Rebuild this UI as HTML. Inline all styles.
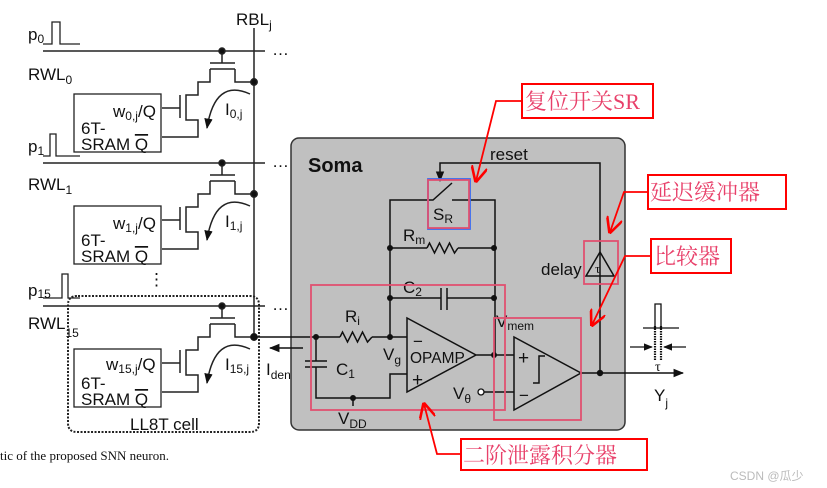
<!DOCTYPE html>
<html><head><meta charset="utf-8"><style>
body{margin:0;background:#fff;width:827px;height:488px;overflow:hidden}
svg{display:block}
text{font-family:"Liberation Sans",sans-serif;fill:#111}
.cn{font-family:"Liberation Serif","Noto Serif CJK SC",serif;fill:#e8406a;font-size:22px}
</style></head><body>
<svg width="827" height="488" viewBox="0 0 827 488" xmlns="http://www.w3.org/2000/svg">
<defs>
<marker id="ah" viewBox="0 0 10 10" refX="9" refY="5" markerWidth="7" markerHeight="7" orient="auto"><path d="M0 1 L10 5 L0 9 Z" fill="#111"/></marker>
<marker id="rh" viewBox="0 0 10 10" refX="9" refY="5" markerWidth="9" markerHeight="9" orient="auto"><path d="M0 0 L10 5 L0 10" fill="none" stroke="#f00" stroke-width="1.6"/></marker>
<g id="row" fill="none" stroke="#222" stroke-width="1.5">
<path d="M43 51 H265"/>
<path d="M222 51 V63 M210 63 H235 M210 69 H235 M235 69 V82 H254"/>
<path d="M210 69 V82 H198 V95 H186 V120 H198 V137 H162"/>
<path d="M180 95 V118 M162 108 H180"/>
<rect x="74" y="94" width="87" height="58" stroke-width="1.3"/>
<path d="M250 94 Q215 78 207 128" marker-end="url(#ah)"/>
<circle cx="222" cy="51" r="3" fill="#111"/>
<circle cx="254" cy="82" r="3.2" fill="#111"/>
</g>
</defs>
<path d="M254 28 V337" stroke="#222" stroke-width="1.5"/>
<text x="236" y="25" font-size="17">RBL<tspan font-size="12" dy="4">j</tspan></text>
<use href="#row"/>
<use href="#row" transform="translate(0,112)"/>
<use href="#row" transform="translate(0,255)"/>
<g font-size="17">
<text x="272" y="55">…</text><text x="272" y="167">…</text><text x="272" y="310">…</text>
<text x="28" y="40">p<tspan font-size="12" dy="3">0</tspan></text>
<text x="28" y="80">RWL<tspan font-size="12" dy="4">0</tspan></text>
<text x="28" y="152">p<tspan font-size="12" dy="3">1</tspan></text>
<text x="28" y="190">RWL<tspan font-size="12" dy="4">1</tspan></text>
<text x="28" y="296">p<tspan font-size="12" dy="2">15</tspan></text>
<text x="28" y="329">RWL<tspan font-size="12" dy="8">15</tspan></text>
<text x="113" y="117">w<tspan font-size="12" dy="3">0,j</tspan><tspan dy="-3">/Q</tspan></text>
<text x="113" y="229">w<tspan font-size="12" dy="3">1,j</tspan><tspan dy="-3">/Q</tspan></text>
<text x="106" y="370">w<tspan font-size="12" dy="3">15,j</tspan><tspan dy="-3">/Q</tspan></text>
<text x="81" y="134">6T-</text><text x="81" y="150">SRAM <tspan text-decoration="overline">Q</tspan></text>
<text x="81" y="246">6T-</text><text x="81" y="262">SRAM <tspan text-decoration="overline">Q</tspan></text>
<text x="81" y="389">6T-</text><text x="81" y="405">SRAM <tspan text-decoration="overline">Q</tspan></text>
<text x="225" y="115">I<tspan font-size="12" dy="3">0,j</tspan></text>
<text x="225" y="227">I<tspan font-size="12" dy="3">1,j</tspan></text>
<text x="225" y="370">I<tspan font-size="12" dy="3">15,j</tspan></text>
<text x="130" y="430">LL8T cell</text>
<text x="148" y="285">⋮</text>
</g>
<g fill="none" stroke="#222" stroke-width="1.3">
<path d="M43 44 H52 V22 H60 V44 H80"/>
<path d="M43 156 H50 V134 H56 V156 H80"/>
<path d="M43 298 H62 V274 H68 V298 H80"/>
<path d="M78 296 H250 Q259 296 259 305 V423 Q259 432 250 432 H77 Q68 432 68 423 V305 Q68 296 77 296 Z" stroke-dasharray="2 1.5" stroke-width="2"/>
</g>
<text x="0" y="460" font-size="13" style="font-family:'Liberation Serif',serif">tic of the proposed SNN neuron.</text>
<rect x="291" y="138" width="334" height="292" rx="8" fill="#c0c0c0" stroke="#333" stroke-width="1.5"/>
<text x="308" y="172" font-size="20" font-weight="bold">Soma</text>
<g fill="none" stroke="#111" stroke-width="1.5">
<path d="M254 337 H340 M372 337 H407"/>
<path d="M340 337 l2.5 -5 l5 10 l5 -10 l5 10 l5 -10 l5 10 l4.5 -5"/>
<path d="M303 348 H270" marker-end="url(#ah)"/>
<path d="M316 337 V361 M305 361 H327 M305 367 H327 M316 367 V398 H390 V374 H407 M353 398 V406"/>
<path d="M390 337 V200 H433 L452 183 M452 200 H495 V355"/>
<path d="M390 248 H427 M458 248 H494"/>
<path d="M427 248 l2.5 -5 l5 10 l5 -10 l5 10 l5 -10 l5 10 l3.5 -5"/>
<path d="M390 298 H441 M447 298 H494 M441 288 V310 M447 288 V310"/>
<path d="M407 318 V392 L476 355 Z M476 355 H514"/>
<path d="M514 337 V410 L581 373 Z M581 373 H680" />
<path d="M680 373 H683" marker-end="url(#ah)"/>
<path d="M484 392 H514"/>
<path d="M533 383 H539 V356 H545"/>
<path d="M600 373 V163 H440 V180" />
<path d="M440 176 V181" marker-end="url(#ah)"/>
<path d="M600 252 L614 276 H586 Z"/>
</g>
<circle cx="481" cy="392" r="3" fill="#fff" stroke="#111" stroke-width="1.3"/>
<g fill="#111"><circle cx="316" cy="337" r="3"/><circle cx="254" cy="337" r="3.2"/><circle cx="390" cy="337" r="3"/><circle cx="353" cy="398" r="3"/><circle cx="390" cy="248" r="3"/><circle cx="494" cy="248" r="3"/><circle cx="390" cy="298" r="3"/><circle cx="494" cy="298" r="3"/><circle cx="494" cy="355" r="3"/><circle cx="600" cy="373" r="3.2"/></g>
<g font-size="17">
<text x="345" y="322">R<tspan font-size="12" dy="3">i</tspan></text>
<text x="336" y="375">C<tspan font-size="12" dy="3">1</tspan></text>
<text x="383" y="360">V<tspan font-size="12" dy="4">g</tspan></text>
<text x="338" y="424">V<tspan font-size="12" dy="4">DD</tspan></text>
<text x="266" y="375">I<tspan font-size="12" dy="4">den</tspan></text>
<text x="403" y="241">R<tspan font-size="12" dy="3">m</tspan></text>
<text x="403" y="293">C<tspan font-size="12" dy="3">2</tspan></text>
<text x="433" y="220">S<tspan font-size="12" dy="3">R</tspan></text>
<text x="490" y="160">reset</text>
<text x="496" y="327">V<tspan font-size="12" dy="3">mem</tspan></text>
<text x="410" y="363" font-size="15.5">OPAMP</text>
<text x="413" y="347">−</text><text x="412" y="386" font-size="19">+</text>
<text x="518" y="364" font-size="19">+</text><text x="519" y="401">−</text>
<text x="453" y="399">V<tspan font-size="12" dy="4">θ</tspan></text>
<text x="541" y="275">delay</text>
<text x="595" y="273" font-size="13" style="font-family:'Liberation Serif',serif">τ</text>
<text x="654" y="401">Y<tspan font-size="12" dy="6">j</tspan></text>
<text x="655" y="371" font-size="14" style="font-family:'Liberation Serif',serif">τ</text>
</g>
<g fill="none" stroke="#111" stroke-width="1.3">
<path d="M655 328 V304 H661 V328"/>
<path d="M655 326 V360 M661 326 V360" stroke-dasharray="1.5 1" stroke-width="2.2"/>
<path d="M643 328 H679"/>
<path d="M630 347 H652" marker-end="url(#ah)"/><path d="M686 347 H664" marker-end="url(#ah)"/>
</g>
<g fill="none" stroke="#e05070" stroke-width="1.8">
<rect x="428" y="179" width="42" height="50" stroke="#3a6cf0"/>
<rect x="428" y="180" width="41" height="48"/>
<rect x="584" y="241" width="34" height="43"/>
<rect x="311" y="285" width="194" height="125"/>
<rect x="494" y="318" width="87" height="102"/>
</g>
<g fill="#fff" stroke="#f00" stroke-width="2">
<rect x="522" y="84" width="131" height="34"/>
<rect x="648" y="175" width="138" height="34"/>
<rect x="651" y="239" width="80" height="34"/>
<rect x="461" y="439" width="186" height="31"/>
</g>
<g fill="none" stroke="#f00" stroke-width="1.8">
<path d="M522 101 H496 L476 181" marker-end="url(#rh)"/>
<path d="M648 192 H624 L610 232" marker-end="url(#rh)"/>
<path d="M651 256 H625 L592 325" marker-end="url(#rh)"/>
<path d="M461 454 H437 L424 404" marker-end="url(#rh)"/>
</g>
<text class="cn" x="525" y="109">复位开关SR</text>
<text class="cn" x="650" y="200">延迟缓冲器</text>
<text class="cn" x="654" y="264">比较器</text>
<text class="cn" x="463" y="463">二阶泄露积分器</text>
<text x="730" y="480" font-size="12" style="fill:#bbb;font-family:'Liberation Sans','Noto Sans CJK SC',sans-serif">CSDN @瓜少</text>
</svg>
</body></html>
